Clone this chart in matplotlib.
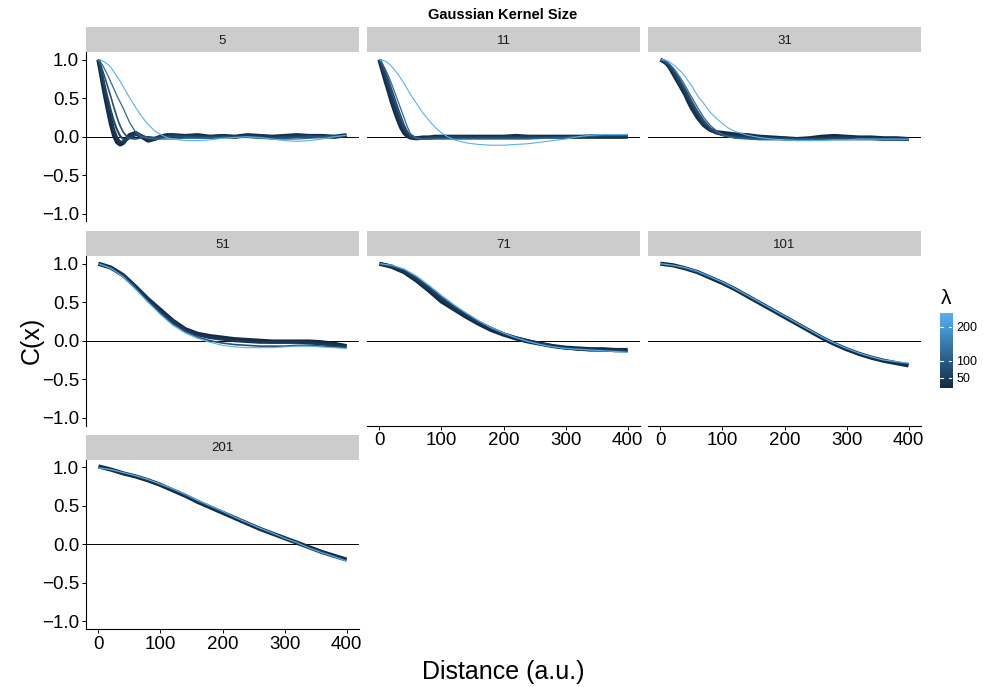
import numpy as np
import matplotlib
matplotlib.use("Agg")
import matplotlib.pyplot as plt
from matplotlib.colors import LinearSegmentedColormap, Normalize

plt.rcParams["font.family"] = ["Liberation Sans", "DejaVu Sans"]

# distance grids (a.u.)
x_fine = [0, 5, 10, 15, 20, 25, 30, 35, 40, 45, 50, 60, 70, 80, 90, 100, 110, 120,
          140, 160, 180, 200, 220, 240, 260, 280, 300, 320, 340, 360, 380, 400]
x_coarse = [0, 20, 40, 60, 80, 100, 120, 140, 160, 180, 200,
            220, 240, 260, 280, 300, 320, 340, 360, 380, 400]

kernel_sizes = [5, 11, 31, 51, 71, 101, 201]

# correlation curves C(x), keyed by lambda
corr_5 = {
    20: [1.00, 0.78, 0.56, 0.36, 0.17, 0.02, -0.07, -0.10, -0.08, -0.03, 0.02, 0.05, 0.00, -0.05, -0.03, 0.00,
         0.02, 0.02, 0.01, 0.02, 0.00, 0.01, 0.00, 0.02, 0.01, 0.00, 0.01, 0.02, 0.01, 0.01, 0.00, 0.02],
    40: [1.00, 0.80, 0.60, 0.41, 0.23, 0.08, -0.02, -0.07, -0.07, -0.03, 0.01, 0.04, 0.01, -0.03, -0.03, 0.00,
         0.01, 0.02, 0.01, 0.01, 0.00, 0.01, 0.00, 0.01, 0.01, 0.00, 0.00, 0.01, 0.01, 0.00, 0.00, 0.01],
    60: [1.00, 0.84, 0.67, 0.50, 0.34, 0.20, 0.09, 0.01, -0.03, -0.04, -0.02, 0.02, 0.01, -0.01, -0.02, -0.01,
         0.00, 0.01, 0.00, 0.00, -0.01, 0.00, 0.00, 0.00, -0.01, -0.01, 0.00, 0.00, 0.01, 0.00, 0.00, 0.01],
    80: [1.00, 0.90, 0.78, 0.65, 0.52, 0.38, 0.25, 0.14, 0.06, 0.01, -0.02, -0.03, -0.01, 0.00, -0.01, -0.01,
         -0.01, 0.00, 0.00, -0.01, -0.01, -0.01, 0.00, 0.00, -0.01, -0.02, -0.02, -0.01, 0.00, 0.00, 0.01, 0.02],
    120: [1.00, 0.95, 0.88, 0.80, 0.71, 0.62, 0.53, 0.45, 0.37, 0.28, 0.19, 0.06, 0.00, -0.02, -0.03, -0.03,
          -0.03, -0.03, -0.02, -0.02, -0.02, -0.01, -0.01, -0.01, -0.02, -0.03, -0.03, -0.03, -0.02, -0.01, 0.00, 0.02],
    240: [1.00, 0.99, 0.97, 0.94, 0.90, 0.84, 0.78, 0.72, 0.65, 0.58, 0.51, 0.38, 0.26, 0.16, 0.08, 0.03,
          -0.01, -0.03, -0.05, -0.05, -0.04, -0.02, -0.01, 0.00, -0.01, -0.03, -0.05, -0.06, -0.05, -0.03, 0.00, 0.02],
}
corr_11 = {
    20: [1.00, 0.86, 0.72, 0.59, 0.45, 0.33, 0.22, 0.12, 0.05, 0.01, -0.01, -0.02, -0.01, -0.01, 0.00, 0.00,
         0.00, 0.00, 0.00, 0.00, 0.00, 0.00, 0.01, 0.00, 0.00, 0.00, 0.00, 0.00, 0.00, 0.00, 0.00, 0.00],
    40: [1.00, 0.88, 0.75, 0.62, 0.49, 0.37, 0.26, 0.16, 0.08, 0.03, 0.00, -0.02, -0.02, -0.01, -0.01, 0.00,
         0.00, 0.00, 0.00, -0.01, -0.01, 0.00, 0.00, 0.00, 0.00, -0.01, 0.00, 0.00, 0.01, 0.01, 0.01, 0.01],
    60: [1.00, 0.90, 0.79, 0.67, 0.55, 0.43, 0.31, 0.20, 0.11, 0.05, 0.01, -0.02, -0.02, -0.02, -0.01, -0.01,
         -0.01, -0.01, -0.01, -0.01, -0.01, -0.01, -0.01, -0.01, -0.01, -0.01, -0.01, 0.00, 0.01, 0.01, 0.02, 0.01],
    80: [1.00, 0.93, 0.84, 0.73, 0.61, 0.49, 0.37, 0.26, 0.15, 0.07, 0.02, -0.02, -0.03, -0.03, -0.02, -0.02,
         -0.02, -0.02, -0.02, -0.02, -0.02, -0.02, -0.02, -0.02, -0.02, -0.01, -0.01, 0.00, 0.01, 0.02, 0.02, 0.02],
    120: [1.00, 0.95, 0.87, 0.78, 0.68, 0.57, 0.46, 0.35, 0.24, 0.13, 0.04, -0.02, -0.03, -0.03, -0.03, -0.03,
          -0.03, -0.03, -0.03, -0.03, -0.03, -0.03, -0.03, -0.03, -0.02, -0.02, -0.01, 0.00, 0.01, 0.02, 0.02, 0.02],
    240: [1.00, 0.99, 0.98, 0.95, 0.91, 0.86, 0.81, 0.75, 0.69, 0.62, 0.55, 0.43, 0.31, 0.21, 0.12, 0.05,
          0.00, -0.04, -0.08, -0.10, -0.11, -0.11, -0.10, -0.09, -0.07, -0.05, -0.03, 0.00, 0.02, 0.03, 0.03, 0.03],
}
corr_31 = {
    20: [1.00, 0.98, 0.95, 0.90, 0.83, 0.76, 0.69, 0.62, 0.55, 0.46, 0.38, 0.25, 0.15, 0.09, 0.06, 0.05,
         0.04, 0.03, 0.02, 0.00, -0.01, -0.02, -0.03, -0.02, 0.00, 0.01, 0.00, -0.01, -0.01, -0.02, -0.02, -0.03],
    40: [1.00, 0.98, 0.95, 0.91, 0.85, 0.78, 0.71, 0.64, 0.57, 0.49, 0.41, 0.27, 0.16, 0.09, 0.05, 0.03,
         0.02, 0.01, 0.00, -0.01, -0.02, -0.02, -0.03, -0.03, -0.02, -0.01, -0.01, -0.02, -0.02, -0.03, -0.03, -0.03],
    60: [1.00, 0.98, 0.96, 0.92, 0.86, 0.80, 0.73, 0.66, 0.59, 0.51, 0.44, 0.30, 0.18, 0.10, 0.05, 0.02,
         0.01, 0.00, -0.01, -0.02, -0.02, -0.03, -0.03, -0.03, -0.03, -0.02, -0.02, -0.02, -0.03, -0.03, -0.03, -0.04],
    80: [1.00, 0.99, 0.96, 0.93, 0.88, 0.82, 0.76, 0.69, 0.62, 0.55, 0.47, 0.33, 0.21, 0.12, 0.06, 0.02,
         0.00, -0.01, -0.02, -0.03, -0.03, -0.03, -0.03, -0.03, -0.03, -0.03, -0.03, -0.03, -0.03, -0.04, -0.04, -0.04],
    120: [1.00, 0.99, 0.97, 0.94, 0.90, 0.85, 0.79, 0.73, 0.66, 0.59, 0.52, 0.38, 0.25, 0.15, 0.08, 0.03,
          0.00, -0.02, -0.03, -0.04, -0.04, -0.04, -0.04, -0.04, -0.04, -0.04, -0.04, -0.04, -0.04, -0.04, -0.04, -0.04],
    240: [1.00, 1.00, 0.99, 0.97, 0.94, 0.91, 0.87, 0.83, 0.78, 0.72, 0.67, 0.53, 0.43, 0.32, 0.24, 0.17,
          0.11, 0.07, 0.02, -0.01, -0.03, -0.04, -0.05, -0.05, -0.05, -0.04, -0.04, -0.03, -0.03, -0.03, -0.03, -0.03],
}
corr_51 = {
    20: [1.00, 0.95, 0.85, 0.70, 0.54, 0.40, 0.26, 0.15, 0.09, 0.06, 0.04,
         0.02, 0.01, 0.00, -0.01, -0.01, -0.01, -0.01, -0.02, -0.04, -0.07],
    40: [1.00, 0.95, 0.85, 0.70, 0.53, 0.38, 0.25, 0.14, 0.08, 0.04, 0.02,
         0.00, -0.01, -0.02, -0.02, -0.02, -0.02, -0.03, -0.04, -0.06, -0.08],
    80: [1.00, 0.94, 0.84, 0.68, 0.51, 0.36, 0.22, 0.12, 0.05, 0.00, -0.03,
         -0.05, -0.06, -0.07, -0.07, -0.07, -0.06, -0.06, -0.07, -0.08, -0.09],
    240: [1.00, 0.94, 0.83, 0.67, 0.50, 0.34, 0.20, 0.10, 0.03, -0.02, -0.06,
          -0.08, -0.09, -0.09, -0.09, -0.08, -0.07, -0.07, -0.08, -0.09, -0.10],
}
corr_71 = {
    20: [1.00, 0.96, 0.89, 0.78, 0.65, 0.51, 0.41, 0.31, 0.22, 0.14, 0.08,
         0.03, -0.01, -0.04, -0.07, -0.09, -0.10, -0.11, -0.11, -0.12, -0.12],
    40: [1.00, 0.97, 0.90, 0.80, 0.67, 0.54, 0.43, 0.33, 0.24, 0.16, 0.09,
         0.04, 0.00, -0.04, -0.07, -0.09, -0.11, -0.12, -0.12, -0.13, -0.13],
    80: [1.00, 0.97, 0.92, 0.82, 0.70, 0.57, 0.45, 0.35, 0.25, 0.17, 0.10,
         0.04, -0.01, -0.05, -0.08, -0.10, -0.11, -0.12, -0.13, -0.13, -0.14],
    240: [1.00, 0.98, 0.93, 0.84, 0.72, 0.59, 0.47, 0.36, 0.26, 0.17, 0.10,
          0.04, -0.01, -0.05, -0.08, -0.10, -0.11, -0.12, -0.13, -0.14, -0.15],
}
corr_101 = {
    20: [1.00, 0.98, 0.94, 0.89, 0.82, 0.75, 0.67, 0.58, 0.49, 0.40, 0.31,
         0.22, 0.13, 0.04, -0.04, -0.11, -0.17, -0.22, -0.26, -0.29, -0.32],
    80: [1.00, 0.98, 0.94, 0.89, 0.83, 0.76, 0.67, 0.59, 0.50, 0.41, 0.32,
         0.23, 0.14, 0.05, -0.03, -0.10, -0.16, -0.21, -0.25, -0.28, -0.30],
    240: [1.00, 0.98, 0.95, 0.90, 0.83, 0.76, 0.68, 0.59, 0.50, 0.41, 0.32,
          0.23, 0.14, 0.05, -0.03, -0.10, -0.16, -0.21, -0.25, -0.27, -0.29],
}
corr_201 = {
    20: [1.01, 0.97, 0.92, 0.88, 0.83, 0.77, 0.70, 0.63, 0.55, 0.48, 0.41,
         0.34, 0.27, 0.20, 0.14, 0.08, 0.02, -0.04, -0.10, -0.15, -0.20],
    80: [1.00, 0.97, 0.93, 0.89, 0.84, 0.78, 0.71, 0.64, 0.56, 0.49, 0.42,
         0.35, 0.28, 0.21, 0.14, 0.08, 0.02, -0.05, -0.10, -0.16, -0.21],
    240: [0.99, 0.97, 0.93, 0.89, 0.84, 0.78, 0.72, 0.65, 0.57, 0.50, 0.43,
          0.35, 0.28, 0.21, 0.15, 0.08, 0.02, -0.05, -0.11, -0.16, -0.22],
}

panels = [
    (5, x_fine, corr_5), (11, x_fine, corr_11), (31, x_fine, corr_31),
    (51, x_coarse, corr_51), (71, x_coarse, corr_71), (101, x_coarse, corr_101),
    (201, x_coarse, corr_201),
]

lam_min, lam_max = 20, 240
lam_breaks = [50, 100, 200]
cmap = LinearSegmentedColormap.from_list("lam", ["#132B43", "#56B1F7"])
norm = Normalize(lam_min, lam_max)
line_width = {20: 3.0, 40: 2.2, 60: 1.5, 80: 1.2, 120: 0.9, 240: 0.8}

W, H = 983, 687
fig = plt.figure(figsize=(W / 100, H / 100), dpi=100)


def px_axes(left, top, width, height):
    return fig.add_axes([left / W, 1 - (top + height) / H, width / W, height / H])


col_left = [86, 367, 648]
row_top = [52, 256, 459.5]
pw, ph, strip_h = 273, 169.5, 25

for i, (ks, xs, curves) in enumerate(panels):
    r, c = divmod(i, 3)
    ax = px_axes(col_left[c], row_top[r], pw, ph)
    ax.axhline(0, color="black", lw=0.7, zorder=1)
    for lam in sorted(curves):
        ax.plot(xs, curves[lam], color=cmap(norm(lam)), lw=line_width[lam],
                solid_capstyle="butt", zorder=2)
    ax.set_xlim(-20, 420)
    ax.set_ylim(-1.1, 1.1)
    ax.set_xticks([0, 100, 200, 300, 400])
    ax.set_yticks([-1, -0.5, 0, 0.5, 1])
    ax.set_yticklabels(["\u22121.0", "\u22120.5", "0.0", "0.5", "1.0"])
    for s in ["top", "right"]:
        ax.spines[s].set_visible(False)
    show_left = c == 0
    show_bottom = (r == 2) or (r == 1 and c > 0)
    ax.spines["left"].set_visible(show_left)
    ax.spines["bottom"].set_visible(show_bottom)
    for s in ["left", "bottom"]:
        ax.spines[s].set_linewidth(0.8)
    ax.tick_params(axis="y", left=show_left, labelleft=show_left, length=3,
                   width=0.7, labelsize=13.5, pad=2, colors="black")
    ax.tick_params(axis="x", bottom=show_bottom, labelbottom=show_bottom, length=3,
                   width=0.7, labelsize=13.5, pad=2, colors="black")

    strip = px_axes(col_left[c], row_top[r] - strip_h, pw, strip_h)
    strip.set_facecolor("#CCCCCC")
    strip.set_xticks([])
    strip.set_yticks([])
    for s in strip.spines.values():
        s.set_visible(False)
    strip.text(0.5, 0.45, str(ks), ha="center", va="center", fontsize=9.5,
               color="#1A1A1A", transform=strip.transAxes)

fig.text(503 / W, 1 - 15 / H, "Gaussian Kernel Size", ha="center", va="center",
         fontsize=10.5, fontweight="bold")
fig.text(503 / W, 1 - 672 / H, "Distance (a.u.)", ha="center", va="center", fontsize=18)
fig.text(32 / W, 1 - 340 / H, "C(x)", ha="center", va="center", fontsize=18, rotation=90)

# colour bar for lambda
cax = px_axes(940, 313, 12, 75)
grad = np.linspace(lam_min, lam_max, 256).reshape(-1, 1)
cax.imshow(grad, aspect="auto", cmap=cmap, norm=norm, origin="lower",
           extent=[0, 1, lam_min, lam_max])
for t in lam_breaks:
    cax.plot([0, 0.22], [t, t], color="white", lw=0.8)
    cax.plot([0.78, 1], [t, t], color="white", lw=0.8)
cax.set_xlim(0, 1)
cax.set_ylim(lam_min, lam_max)
cax.set_xticks([])
cax.yaxis.tick_right()
cax.set_yticks(lam_breaks)
cax.set_yticklabels([str(b) for b in lam_breaks])
cax.tick_params(axis="y", length=0, labelsize=9, pad=3)
for s in cax.spines.values():
    s.set_visible(False)
fig.text(946 / W, 1 - 299 / H, "\u03bb", ha="center", va="center", fontsize=15)

fig.savefig("out.png", dpi=100)
